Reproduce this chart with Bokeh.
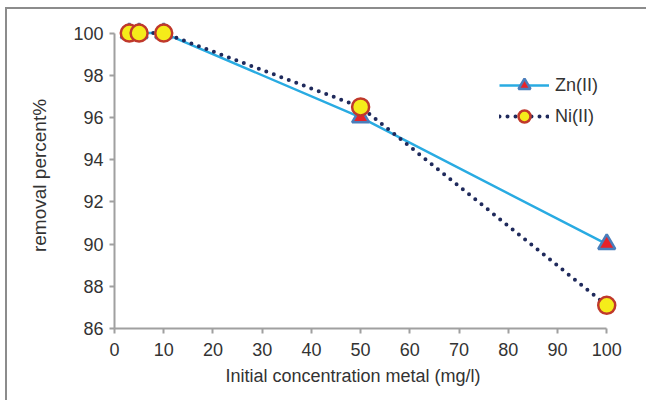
from bokeh.plotting import figure
from bokeh.models import Range1d, Legend, LegendItem, FixedTicker, Title
from bokeh.embed import file_html
from bokeh.resources import INLINE

conc = [3, 5, 10, 50, 100]
zn = [100, 100, 100, 96, 90]
ni = [100, 100, 100, 96.5, 87.1]
x_ticks = [0, 10, 20, 30, 40, 50, 60, 70, 80, 90, 100]
y_ticks = [86, 88, 90, 92, 94, 96, 98, 100]
x_title = "Initial concentration metal (mg/l)"
y_title = "removal percent%"

FONT = "Liberation Sans"

p = figure(width=641, height=393, output_backend="svg", toolbar_location=None,
           x_range=Range1d(0, 103), y_range=Range1d(86, 100.5),
           min_border_left=107, min_border_right=27, min_border_top=13, min_border_bottom=74)
p.styles = {"margin-left": "5px", "margin-top": "7px",
            "border-left": "2px solid #8c8c8c", "border-top": "2px solid #8c8c8c"}
p.outline_line_color = None
p.xgrid.visible = False
p.ygrid.visible = False

for ax in (p.xaxis[0], p.yaxis[0]):
    ax.axis_line_color = "#a0a0a0"
    ax.axis_line_width = 2
    ax.major_tick_line_color = "#a0a0a0"
    ax.major_tick_line_width = 2
    ax.major_tick_out = 5
    ax.major_tick_in = 0
    ax.minor_tick_line_color = None
    ax.major_label_text_font = FONT
    ax.major_label_text_font_size = "18px"
    ax.major_label_text_color = "#333333"
    ax.axis_label_text_font = FONT
    ax.axis_label_text_font_style = "normal"
    ax.axis_label_text_color = "#333333"

p.xaxis[0].ticker = FixedTicker(ticks=x_ticks)
p.yaxis[0].ticker = FixedTicker(ticks=y_ticks)
p.xaxis[0].bounds = (0, 100)
p.yaxis[0].bounds = (86, 100)
p.xaxis[0].major_label_standoff = 9
p.yaxis[0].axis_label = y_title
p.yaxis[0].axis_label_text_font_size = "19px"
p.yaxis[0].axis_label_standoff = 20
p.yaxis[0].major_label_standoff = 6

xt = Title(text=x_title, align="left", offset=111, standoff=10,
           text_font=FONT, text_font_size="18px", text_font_style="normal",
           text_color="#333333")
p.add_layout(xt, "below")

zl = p.line(conc, zn, line_color="#29abe2", line_width=2.5)
zm = p.scatter(conc, zn, marker="triangle", size=17, fill_color="#e8232a",
               line_color="#4a7ebb", line_width=2.5)
nl = p.line(conc, ni, line_color="#1f2a5c", line_width=4, line_dash="0 8", line_cap="round")
nm = p.scatter(conc, ni, marker="circle", size=17, fill_color="#f5ec1a",
               line_color="#c0392b", line_width=2.5)

legend = Legend(items=[LegendItem(label="Zn(II)", renderers=[zl, zm]),
                       LegendItem(label="Ni(II)", renderers=[nl, nm])],
                location=(385, 197), glyph_width=50, glyph_height=30,
                spacing=1, padding=0, margin=0, label_standoff=6,
                border_line_color=None, background_fill_alpha=0,
                label_text_font=FONT, label_text_font_size="18px",
                label_text_color="#333333")
p.add_layout(legend)

open("out.html", "w").write(file_html(p, INLINE))
